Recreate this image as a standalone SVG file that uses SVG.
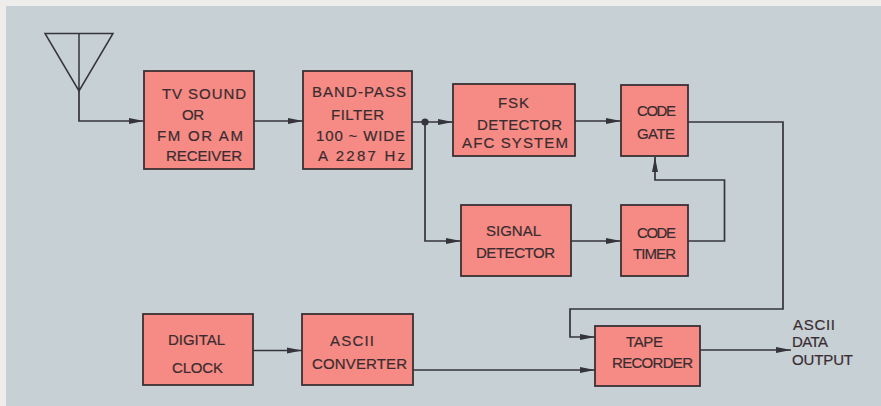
<svg xmlns="http://www.w3.org/2000/svg" width="881" height="406" viewBox="0 0 881 406">
<style>
.box{fill:#f58b84;stroke:#3a3033;stroke-width:1.8}
text{font-family:"Liberation Sans",Arial,sans-serif;font-size:15px;fill:#3a2c30;stroke:#3a2c30;stroke-width:.2}
.c{fill:none;stroke:#34343a;stroke-width:1.7}
.a{fill:none;stroke:#34343a;stroke-width:1.5}
</style>
<defs>
<marker id="ah" markerUnits="userSpaceOnUse" markerWidth="16" markerHeight="8" refX="15" refY="4" orient="auto"><path d="M0 1L15 4L0 7Z" fill="#34343a"/></marker>
</defs>
<rect width="881" height="406" fill="#eeedeb"/>
<rect x="6" y="6" width="875" height="400" fill="#c7d0d5"/>
<g id="connectors">
<path class="c" d="M79 91V121H144" marker-end="url(#ah)"/>
<path class="c" d="M254 121H303" marker-end="url(#ah)"/>
<path class="c" d="M412 122H453" marker-end="url(#ah)"/>
<path class="c" d="M425 122V241H461" marker-end="url(#ah)"/>
<circle cx="425" cy="122" r="3.6" fill="#34343a"/>
<path class="c" d="M575 121H621" marker-end="url(#ah)"/>
<path class="c" d="M571 241H621" marker-end="url(#ah)"/>
<path class="c" d="M688 241H724.500V180H655V157" marker-end="url(#ah)"/>
<path class="c" d="M688 122H783V309H570V337H595" marker-end="url(#ah)"/>
<path class="c" d="M253 350.500H302" marker-end="url(#ah)"/>
<path class="c" d="M413 370H595" marker-end="url(#ah)"/>
<path class="c" d="M700 350H791" marker-end="url(#ah)"/>
</g>
<g id="antenna"><path class="a" d="M45 33.500H113L79 91ZM79 33.500V91"/></g>
<g id="receiver"><rect class="box" x="144" y="71" width="110" height="98"/>
<text x="162" y="99" textLength="84">TV SOUND</text><text x="182" y="120" textLength="22">OR</text><text x="157" y="141" textLength="86">FM OR AM</text><text x="166" y="161" textLength="76">RECEIVER</text></g>
<g id="filter"><rect class="box" x="303" y="71" width="109" height="98"/>
<text x="312" y="97" textLength="94">BAND-PASS</text><text x="331" y="120" textLength="53">FILTER</text><text x="316" y="141" textLength="89">100 ~ WIDE</text><text x="318" y="161" textLength="87">A 2287 Hz</text></g>
<g id="fsk"><rect class="box" x="453" y="84" width="122" height="72"/>
<text x="498" y="108" textLength="31">FSK</text><text x="477" y="130" textLength="85">DETECTOR</text><text x="462" y="148" textLength="106">AFC SYSTEM</text></g>
<g id="gate"><rect class="box" x="621" y="85" width="67" height="71"/>
<text x="637" y="116" textLength="39">CODE</text><text x="637" y="139" textLength="38">GATE</text></g>
<g id="signal"><rect class="box" x="461" y="205" width="110" height="71"/>
<text x="486" y="236" textLength="55">SIGNAL</text><text x="476" y="258" textLength="79">DETECTOR</text></g>
<g id="timer"><rect class="box" x="621" y="205" width="67" height="71"/>
<text x="637" y="238" textLength="39">CODE</text><text x="633" y="259" textLength="43">TIMER</text></g>
<g id="clock"><rect class="box" x="143" y="314" width="110" height="71"/>
<text x="168" y="345" textLength="57">DIGITAL</text><text x="172" y="373" textLength="51">CLOCK</text></g>
<g id="converter"><rect class="box" x="302" y="314" width="111" height="71"/>
<text x="330" y="346" textLength="44">ASCII</text><text x="312" y="369" textLength="95">CONVERTER</text></g>
<g id="tape"><rect class="box" x="595" y="326" width="105" height="60"/>
<text x="626" y="347" textLength="37">TAPE</text><text x="612" y="368" textLength="81">RECORDER</text></g>
<g id="output"><text x="793" y="330" textLength="42">ASCII</text><text x="792" y="347" textLength="36">DATA</text><text x="792" y="365" textLength="61">OUTPUT</text></g>
</svg>
